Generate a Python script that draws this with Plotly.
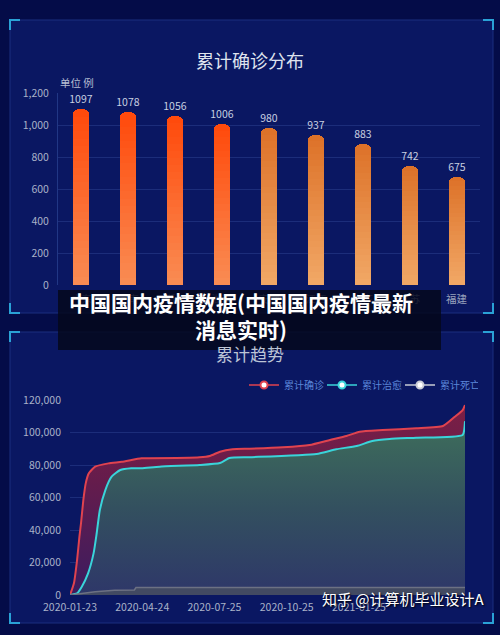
import plotly.graph_objects as go

# ---------------- data ----------------
provinces = ["广东", "河南", "浙江", "湖南", "安徽", "江西", "山东", "江苏", "福建"]
province_confirmed = [1097, 1078, 1056, 1006, 980, 937, 883, 742, 675]
bar_yticks = [0, 200, 400, 600, 800, 1000, 1200]

confirmed_dates = ["2020-01-23", "2020-01-28", "2020-02-01", "2020-02-04", "2020-02-06",
                   "2020-02-09", "2020-02-12", "2020-02-16", "2020-02-24", "2020-03-12",
                   "2020-03-29", "2020-04-23", "2020-05-03", "2020-07-06", "2020-07-19",
                   "2020-08-01", "2020-08-17", "2020-09-08", "2020-10-20", "2020-11-23",
                   "2020-12-19", "2021-01-09", "2021-01-26", "2021-02-24", "2021-04-08",
                   "2021-05-12", "2021-05-27", "2021-06-06", "2021-06-09"]
confirmed_values = [0, 7200, 21500, 35900, 44100, 58500, 68700, 74900, 79000, 81000,
                    82000, 84100, 84100, 84700, 85500, 88200, 89700, 90000, 90900, 92300,
                    95400, 97800, 100500, 101500, 102600, 104000, 109700, 113800, 116900]

cured_dates = ["2020-01-23", "2020-02-01", "2020-02-07", "2020-02-15", "2020-02-22",
               "2020-02-26", "2020-03-01", "2020-03-08", "2020-03-16", "2020-03-27",
               "2020-04-10", "2020-04-23", "2020-05-16", "2020-07-06", "2020-08-01",
               "2020-08-13", "2020-09-08", "2020-12-02", "2020-12-27", "2021-01-22",
               "2021-02-11", "2021-03-05", "2021-04-08", "2021-06-06", "2021-06-09"]
cured_values = [0, 1000, 5100, 13300, 25600, 38000, 52300, 64600, 72800, 76900,
                78000, 78000, 79000, 80000, 81200, 84300, 84800, 86800, 89700, 91700,
                94800, 96000, 96800, 98500, 107000]

death_dates = ["2020-01-23", "2020-02-05", "2020-02-24", "2020-03-20", "2020-04-14",
               "2020-04-16", "2021-06-09"]
death_values = [0, 800, 2000, 2900, 3100, 4600, 4650]

trend_tick_dates = ["2020-01-23", "2020-04-24", "2020-07-25", "2020-10-25", "2021-01-25"]
trend_yticks = [0, 20000, 40000, 60000, 80000, 100000, 120000]
trend_range = ["2020-01-23", "2021-06-09"]

series_names = ["累计确诊", "累计治愈", "累计死亡"]

# ---------------- styles ----------------
W, H = 500, 635
def px(x):
    return x / W
def py(y):
    return 1 - y / H

bar_top_colors = ["#ff4a0c"] * 4 + ["#dd7229"] * 5
bar_bottom_colors = ["#f98b52"] * 4 + ["#f1a765"] * 5
FONT = "Noto Sans CJK SC"

def hex2rgb(h):
    h = h.lstrip("#")
    return tuple(int(h[i:i + 2], 16) for i in (0, 2, 4))

def mix(c1, c2, t):
    a, b = hex2rgb(c1), hex2rgb(c2)
    return "rgb(%d,%d,%d)" % tuple(round(a[i] + (b[i] - a[i]) * t) for i in range(3))

fig = go.Figure()

# ---- bar chart (vertical gradient via overlaid layers) ----
N = 24
for k in range(N):
    frac = 1 - k / N
    t = k / (N - 1)
    kw = {}
    if k == 0:
        kw = dict(text=[str(v) for v in province_confirmed], textposition="outside",
                  textfont=dict(color="#c8cfe0", size=10.5, family=FONT),
                  constraintext="none", cliponaxis=False)
    fig.add_trace(go.Bar(
        x=provinces, y=[v * frac for v in province_confirmed],
        marker=dict(color=[mix(bar_top_colors[i], bar_bottom_colors[i], t) for i in range(len(provinces))],
                    line=dict(width=0), cornerradius=5 if k == 0 else 0),
        width=0.34, xaxis="x", yaxis="y", showlegend=False, hoverinfo="skip", **kw))

# ---- trend chart ----
fig.add_trace(go.Scatter(
    x=confirmed_dates, y=confirmed_values, mode="lines", name=series_names[0],
    line=dict(color="#e0434f", width=2, shape="spline", smoothing=0.5),
    fill="tozeroy",
    fillgradient=dict(type="vertical", colorscale=[[0, "#3b1c60"], [0.6, "#651c4c"], [1, "#7b1f45"]]),
    xaxis="x2", yaxis="y2", showlegend=False, hoverinfo="skip"))
fig.add_trace(go.Scatter(
    x=cured_dates, y=cured_values, mode="lines", name=series_names[1],
    line=dict(color="#3ad4da", width=2, shape="spline", smoothing=0.5),
    fill="tozeroy",
    fillgradient=dict(type="vertical", colorscale=[[0, "#2e3769"], [0.5, "#33505f"], [1, "#3e6e5b"]]),
    xaxis="x2", yaxis="y2", showlegend=False, hoverinfo="skip"))
fig.add_trace(go.Scatter(
    x=death_dates, y=death_values, mode="lines", name=series_names[2],
    line=dict(color="#6c7183", width=1.5),
    fill="tozeroy", fillcolor="#424a62",
    xaxis="x2", yaxis="y2", showlegend=False, hoverinfo="skip"))

# legend entries
for name, col in zip(series_names, ["#e0434f", "#3ad4da", "#c9ccd6"]):
    fig.add_trace(go.Scatter(
        x=[None], y=[None], mode="lines+markers", name=name,
        line=dict(color=col, width=1.5),
        marker=dict(color="white", size=7, line=dict(color=col, width=2)),
        xaxis="x2", yaxis="y2", showlegend=True))

# ---------------- shapes ----------------
shapes = []
panels = [(10, 20, 493, 313), (10, 332, 493, 623)]
for (x0, y0, x1, y1) in panels:
    shapes.append(dict(type="rect", xref="paper", yref="paper", x0=px(x0), x1=px(x1),
                       y0=py(y1), y1=py(y0), fillcolor="#0a1762",
                       line=dict(color="#1b2f7e", width=1), layer="below"))
    L = 10
    cc = "#2aa2d6"
    for (cx, cy, dx, dy) in [(x0, y0, 1, 1), (x1, y0, -1, 1), (x0, y1, 1, -1), (x1, y1, -1, -1)]:
        shapes.append(dict(type="path", xref="paper", yref="paper",
                           path="M %f %f L %f %f L %f %f" % (px(cx + dx * L), py(cy), px(cx), py(cy), px(cx), py(cy + dy * L)),
                           line=dict(color=cc, width=2), layer="below"))
# caption box
shapes.append(dict(type="rect", xref="paper", yref="paper", x0=px(58), x1=px(441),
                   y0=py(350), y1=py(290), fillcolor="rgba(5,8,28,0.85)",
                   line=dict(width=0), layer="above"))

annotations = [
    dict(text="累计确诊分布", x=0.5, y=py(45), xref="paper", yref="paper", showarrow=False,
         font=dict(family=FONT, size=18, color="#dfe3ee")),
    dict(text="单位 例", x=px(58), y=py(73), xref="paper", yref="paper", showarrow=False,
         font=dict(family=FONT, size=10.5, color="#b5bdd2")),
    dict(text="累计趋势", x=0.5, y=py(353), xref="paper", yref="paper", showarrow=False,
         font=dict(family=FONT, size=17, color="#bcc4d6")),
    dict(text="中国国内疫情数据(中国国内疫情最新<br>消息实时)", x=px(241), y=py(315),
         xref="paper", yref="paper", showarrow=False, align="center",
         font=dict(family=FONT, size=21, color="white", weight=700)),
    dict(text="知乎 @计算机毕业设计A", x=px(487), y=py(611), xref="paper", yref="paper",
         xanchor="right", showarrow=False,
         font=dict(family=FONT, size=15, color="white", shadow="1px 1px 2px #000")),
]

tickfont = dict(family=FONT, size=10.5, color="#a9b2c8")

fig.update_layout(
    width=W, height=H, margin=dict(l=0, r=0, t=0, b=0, pad=0, autoexpand=False),
    paper_bgcolor="#040c48", plot_bgcolor="rgba(0,0,0,0)",
    barmode="overlay", bargap=0,
    shapes=shapes, annotations=annotations,
    xaxis=dict(domain=[px(58), px(480)], showgrid=False, zeroline=False, showline=False,
               tickfont=dict(family=FONT, size=10.5, color="#98a2bc"), ticks="",
               ticklabelstandoff=6, automargin=False, fixedrange=True),
    yaxis=dict(domain=[py(285), py(93.3)], range=[0, 1200], tickvals=bar_yticks,
               tickformat=",", gridcolor="#1c2d7a", gridwidth=1, zeroline=False,
               showline=True, linecolor="#213785", tickfont=tickfont, ticks="",
               ticklabelstandoff=6, automargin=False, anchor="x"),
    xaxis2=dict(domain=[px(70), px(465)], type="date", range=trend_range,
                tickvals=trend_tick_dates, ticktext=trend_tick_dates, showgrid=False,
                zeroline=False, showline=False, tickfont=tickfont, ticks="",
                ticklabelstandoff=4, automargin=False, anchor="y2"),
    yaxis2=dict(domain=[py(595), py(400)], range=[0, 120000], tickvals=trend_yticks,
                tickformat=",", gridcolor="#1c2d7a", gridwidth=1, zeroline=False,
                showline=False, tickfont=tickfont, ticks="", ticklabelstandoff=8,
                automargin=False, anchor="x2"),
    legend=dict(orientation="h", x=px(478), xanchor="right", y=py(385), yanchor="middle",
                font=dict(family=FONT, size=10, color="#5a86d8"), bgcolor="rgba(0,0,0,0)",
                itemwidth=30, tracegroupgap=0, entrywidth=33),
    showlegend=True,
)

fig.write_html("out.html", config={"displayModeBar": False},
               post_script="document.body.style.margin='0';document.body.style.overflow='hidden';"
                           "document.body.style.background='#040c48';")
